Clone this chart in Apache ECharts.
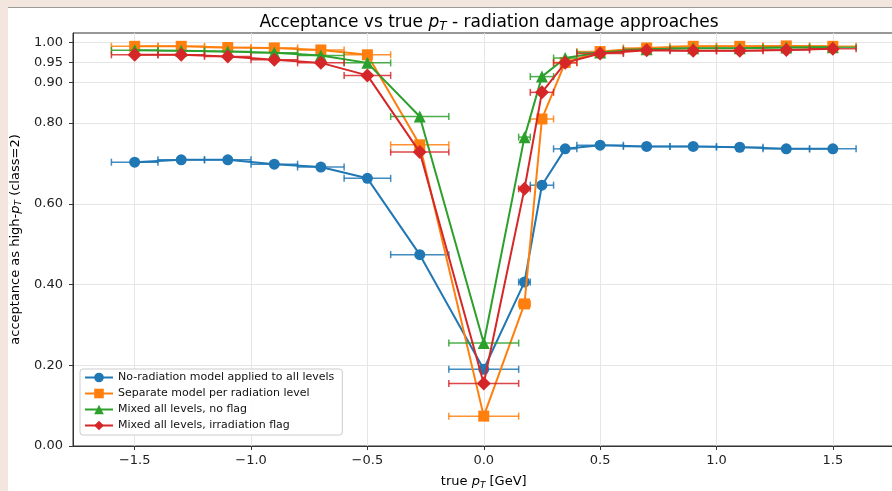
<!DOCTYPE html>
<html><head><meta charset="utf-8">
<script src="https://cdn.jsdelivr.net/npm/echarts@6/dist/echarts.min.js"></script>
<style>html,body{margin:0;padding:0;background:#f2e6de;}#c{width:892px;height:491px;}</style>
</head><body><div id="c"></div>
<script>
// ---- data ----
const xCenters = [-1.5,-1.3,-1.1,-0.9,-0.7,-0.5,-0.275,0,0.175,0.25,0.35,0.5,0.7,0.9,1.1,1.3,1.5];
const xLow     = [-1.6,-1.4,-1.2,-1.0,-0.8,-0.6,-0.4,-0.15,0.15,0.2,0.3,0.4,0.6,0.8,1.0,1.2,1.4];
const xHigh    = [-1.4,-1.2,-1.0,-0.8,-0.6,-0.4,-0.15,0.15,0.2,0.3,0.4,0.6,0.8,1.0,1.2,1.4,1.6];
const noRadiation = [0.703,0.709,0.709,0.698,0.691,0.663,0.474,0.190,0.406,0.646,0.736,0.745,0.742,0.742,0.740,0.736,0.736];
const separateModel = [0.990,0.990,0.987,0.986,0.981,0.969,0.746,0.074,0.352,0.810,0.950,0.977,0.986,0.990,0.990,0.991,0.990];
const mixedNoFlag = [0.980,0.979,0.977,0.974,0.967,0.949,0.816,0.255,0.765,0.915,0.961,0.975,0.983,0.985,0.985,0.987,0.988];
const mixedFlag = [0.969,0.969,0.965,0.957,0.949,0.918,0.728,0.155,0.637,0.876,0.949,0.972,0.980,0.979,0.979,0.981,0.984];
const seriesNames = ['No-radiation model applied to all levels','Separate model per radiation level','Mixed all levels, no flag','Mixed all levels, irradiation flag'];
const xTicks = [-1.5,-1.0,-0.5,0,0.5,1.0,1.5];
const yTicks = [0,0.2,0.4,0.6,0.8,0.9,0.95,1.0];

const colors = ['#1f77b4','#ff7f0e','#2ca02c','#d62728'];
const symbols = ['circle','rect','triangle','diamond'];
const sizes = [11,11,12,14];
const values = [noRadiation, separateModel, mixedNoFlag, mixedFlag];
const FONT = 'DejaVu Sans';

const series = [];
values.forEach((vals, i) => {
  series.push({
    type: 'custom', name: seriesNames[i] + ' err', z: 2 + i*2,
    data: vals.map((v, k) => [xLow[k], xHigh[k], v]),
    encode: {x: [0,1], y: 2},
    silent: true,
    renderItem: (params, api) => {
      const p1 = api.coord([api.value(0), api.value(2)]);
      const p2 = api.coord([api.value(1), api.value(2)]);
      const st = {stroke: colors[i], lineWidth: 1.5, opacity: 0.85};
      const c = 3.5;
      return {type: 'group', children: [
        {type: 'line', shape: {x1: p1[0], y1: p1[1], x2: p2[0], y2: p2[1]}, style: st},
        {type: 'line', shape: {x1: p1[0], y1: p1[1]-c, x2: p1[0], y2: p1[1]+c}, style: st},
        {type: 'line', shape: {x1: p2[0], y1: p2[1]-c, x2: p2[0], y2: p2[1]+c}, style: st}
      ]};
    }
  });
  series.push({
    type: 'line', name: seriesNames[i], z: 3 + i*2,
    data: vals.map((v, k) => [xCenters[k], v]),
    symbol: symbols[i], symbolSize: sizes[i], showSymbol: true,
    itemStyle: {color: colors[i]},
    lineStyle: {color: colors[i], width: 2},
    emphasis: {disabled: true}
  });
});

const chart = echarts.init(document.getElementById('c'), null, {renderer: 'canvas'});
chart.setOption({
  animation: false,
  backgroundColor: '#f2e6de',
  graphic: [
    {type: 'rect', left: 8, top: 7, shape: {width: 884, height: 484}, style: {fill: '#ffffff'}, z: -10},
    {type: 'line', shape: {x1: 8, y1: 7.5, x2: 892, y2: 7.5}, style: {stroke: '#9a9a9a', lineWidth: 1}, z: -9}
  ],
  title: {
    text: '{n|Acceptance vs true }{p|p}{s|T}{n| - radiation damage approaches}',
    left: 484, top: 8, textAlign: 'center',
    textStyle: {
      fontWeight: 'normal',
      rich: {
        n: {fontFamily: FONT, fontSize: 17, color: '#000', fontWeight: 'normal', lineHeight: 20},
        p: {fontFamily: FONT, fontSize: 17, color: '#000', fontWeight: 'normal', fontStyle: 'italic', lineHeight: 20},
        s: {fontFamily: FONT, fontSize: 12, color: '#000', fontWeight: 'normal', fontStyle: 'italic', lineHeight: 20, verticalAlign: 'bottom', padding: [6,0,0,0]}
      }
    }
  },
  legend: {
    data: seriesNames,
    orient: 'vertical', left: 80, top: 369,
    itemWidth: 28, itemHeight: 12, itemGap: 5,
    padding: [3, 8, 4, 4],
    backgroundColor: 'rgba(255,255,255,0.85)',
    borderColor: '#cccccc', borderWidth: 1, borderRadius: 3,
    textStyle: {fontFamily: FONT, fontSize: 11, color: '#111'}
  },
  grid: {left: 73, top: 33, right: -2.5, bottom: 45, show: true, borderColor: '#333', borderWidth: 1, containLabel: false, outerBoundsMode: 'none'},
  xAxis: {
    type: 'value', min: -1.765, max: 1.765,
    name: '{n|true }{p|p}{s|T}{n| [GeV]}', nameLocation: 'middle', nameGap: 28,
    nameTextStyle: {rich: {
      n: {fontFamily: FONT, fontSize: 13, color: '#000', lineHeight: 16},
      p: {fontFamily: FONT, fontSize: 13, color: '#000', fontStyle: 'italic', lineHeight: 16},
      s: {fontFamily: FONT, fontSize: 9, color: '#000', fontStyle: 'italic', lineHeight: 16, verticalAlign: 'bottom', padding: [4,0,0,0]}
    }},
    axisLine: {show: true, onZero: false, lineStyle: {color: '#333', width: 1}},
    axisTick: {show: true, length: 4, inside: false, customValues: xTicks, lineStyle: {color: '#333'}},
    axisLabel: {customValues: xTicks, margin: 8, fontFamily: FONT, fontSize: 13, color: '#222',
      formatter: v => (v < 0 ? '\u2212' : '') + Math.abs(v).toFixed(1)},
    splitLine: {show: true, lineStyle: {color: '#e6e6e6', width: 1}}
  },
  yAxis: {
    type: 'value', min: 0, max: 1.023,
    name: '{n|acceptance as high-}{p|p}{s|T}{n| (class=2)}', nameLocation: 'middle', nameGap: 46,
    nameTextStyle: {rich: {
      n: {fontFamily: FONT, fontSize: 13, color: '#000', lineHeight: 16},
      p: {fontFamily: FONT, fontSize: 13, color: '#000', fontStyle: 'italic', lineHeight: 16},
      s: {fontFamily: FONT, fontSize: 9, color: '#000', fontStyle: 'italic', lineHeight: 16, verticalAlign: 'bottom', padding: [4,0,0,0]}
    }},
    axisLine: {show: true, onZero: false, lineStyle: {color: '#333', width: 1}},
    axisTick: {show: true, length: 4, inside: false, customValues: yTicks, lineStyle: {color: '#333'}},
    axisLabel: {customValues: yTicks, margin: 10, fontFamily: FONT, fontSize: 13, color: '#222',
      formatter: v => v.toFixed(2)},
    splitLine: {show: true, lineStyle: {color: '#e6e6e6', width: 1}}
  },
  series: series
});
</script></body></html>
